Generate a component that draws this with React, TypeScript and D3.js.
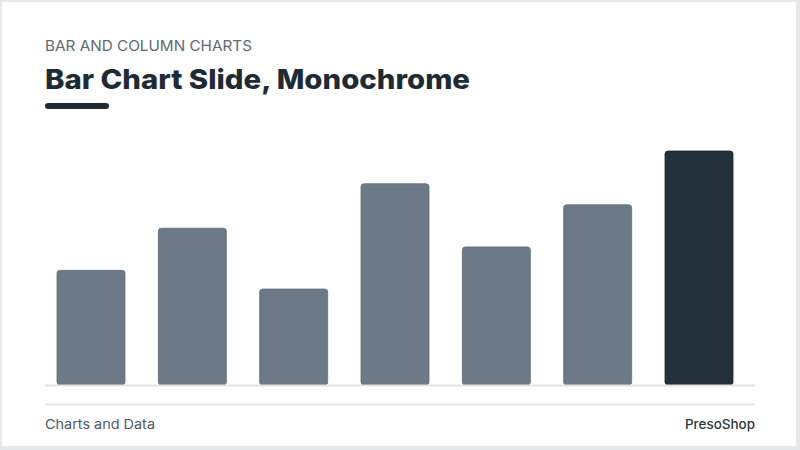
import * as React from "react"
import * as d3 from "d3"

const categories = ["A", "B", "C", "D", "E", "F", "G"]
const values = [49, 67, 41, 86, 59, 77, 100]
const highlight = "G"

const kicker = "BAR AND COLUMN CHARTS"
const title = "Bar Chart Slide, Monochrome"
const footerLeft = "Charts and Data"
const footerRight = "PresoShop"

const W = 800
const H = 450

export default function App() {
  const x = d3.scaleBand<string>()
    .domain(categories)
    .range([57, 733])
    .paddingInner(0.329)
    .paddingOuter(0)

  const y = d3.scaleLinear()
    .domain([0, 100])
    .range([385, 151])

  const font = "Inter, 'Open Sans', sans-serif"

  return (
    <div style={{ position: "fixed", left: 0, top: 0, width: W, height: H }}>
      <svg width={W} height={H} viewBox={`0 0 ${W} ${H}`} style={{ display: "block" }}>
        <rect width={W} height={H} fill="#e6e8ea" />
        <rect x={2} y={2} width={794} height={444} fill="#ffffff" />

        <text x={45} y={51} fontFamily={font} fontSize={14} fill="#5e6a73" textLength={207} lengthAdjust="spacingAndGlyphs">
          {kicker}
        </text>
        <text x={45} y={89} fontFamily={font} fontSize={27} fontWeight={800} fill="#1f2b34" textLength={425} lengthAdjust="spacingAndGlyphs">
          {title}
        </text>
        <rect x={45} y={103} width={64} height={6} rx={3} fill="#1f2b34" />

        {categories.map((c, i) => (
          <rect
            key={c}
            x={x(c)}
            y={y(values[i])}
            width={x.bandwidth()}
            height={y(0) - y(values[i])}
            rx={3}
            fill={c === highlight ? "#22303a" : "#6b7a86"}
            stroke={c === highlight ? "#1b262e" : "#5f6d78"}
            strokeWidth={0.8}
          />
        ))}

        <line x1={45} x2={755} y1={385.5} y2={385.5} stroke="#e2e4e6" strokeWidth={2} />
        <line x1={45} x2={755} y1={404.5} y2={404.5} stroke="#e2e4e6" strokeWidth={1.5} />

        <text x={45} y={429} fontFamily={font} fontSize={13} fill="#4f5a62" textLength={110} lengthAdjust="spacingAndGlyphs">
          {footerLeft}
        </text>
        <text x={755} y={429} fontFamily={font} fontSize={13} fontWeight={500} fill="#2c363d" textAnchor="end" textLength={70} lengthAdjust="spacingAndGlyphs">
          {footerRight}
        </text>
      </svg>
    </div>
  )
}
